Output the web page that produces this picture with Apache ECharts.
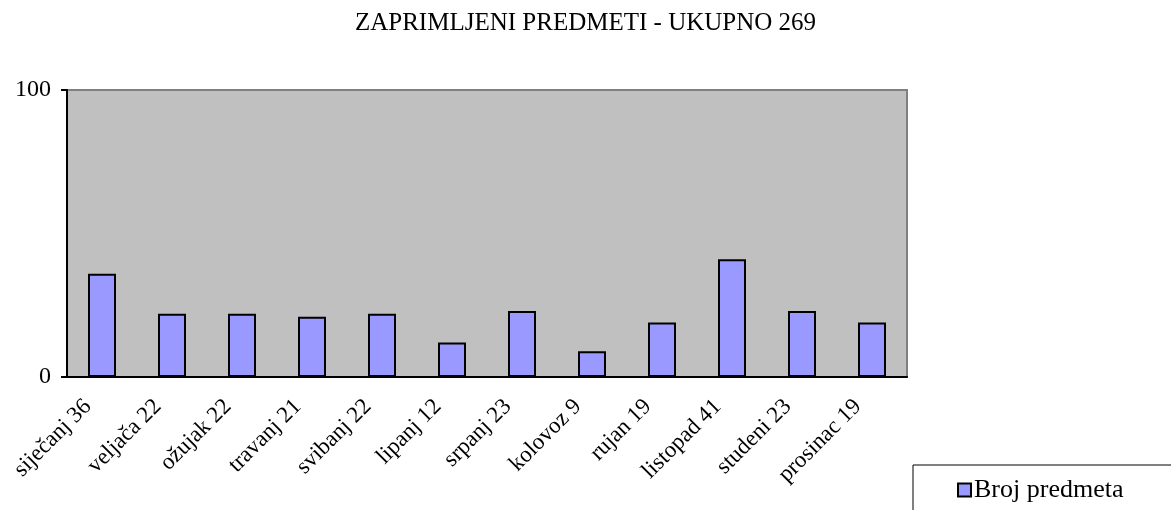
<!DOCTYPE html>
<html>
<head>
<meta charset="UTF-8">
<title>Zaprimljeni predmeti</title>
<script src="https://cdn.jsdelivr.net/npm/echarts@6/dist/echarts.min.js"></script>
<style>
  html, body { margin: 0; padding: 0; background: #fff; }
  #main { width: 1171px; height: 510px; }
</style>
</head>
<body>
<div id="main"></div>
<script>
// podaci po mjesecima
var months = ['siječanj', 'veljača', 'ožujak', 'travanj', 'svibanj', 'lipanj',
  'srpanj', 'kolovoz', 'rujan', 'listopad', 'studeni', 'prosinac'];
var counts = [36, 22, 22, 21, 22, 12, 23, 9, 19, 41, 23, 19];
var yTicks = [0, 100];

var serif = '"Liberation Serif", "Times New Roman", serif';
var labels = months.map(function (m, i) { return m + ' ' + counts[i]; });

var chart = echarts.init(document.getElementById('main'));
chart.setOption({
  animation: false,
  title: {
    text: 'ZAPRIMLJENI PREDMETI - UKUPNO 269',
    left: 'center',
    top: 6,
    textStyle: { fontFamily: serif, fontSize: 25, fontWeight: 'normal', color: '#000' }
  },
  legend: {
    left: 913,
    top: 465,
    padding: [12, 60, 20, 44],
    backgroundColor: '#fff',
    borderColor: '#000',
    borderWidth: 1,
    borderRadius: 0,
    itemWidth: 13,
    itemHeight: 13,
    itemGap: 4,
    icon: 'rect',
    textStyle: { fontFamily: serif, fontSize: 26, color: '#000', padding: [0, 0, 0, -2] },
    data: ['Broj predmeta']
  },
  grid: {
    left: 67, right: 264, top: 90, bottom: 133,
    show: true,
    backgroundColor: '#c0c0c0',
    borderColor: '#808080',
    borderWidth: 2
  },
  xAxis: {
    type: 'category',
    data: labels,
    axisLine: { lineStyle: { color: '#000', width: 2 } },
    axisTick: { length: 6, lineStyle: { color: '#000', width: 2 } },
    axisLabel: {
      rotate: 45, interval: 0, margin: 12, padding: [0, 20, 0, 0],
      fontFamily: serif, fontSize: 23, color: '#000'
    }
  },
  yAxis: {
    type: 'value',
    min: yTicks[0],
    max: yTicks[yTicks.length - 1],
    interval: yTicks[1] - yTicks[0],
    splitLine: { show: false },
    axisLine: { show: true, lineStyle: { color: '#000', width: 2 } },
    axisTick: { show: true, length: 6, lineStyle: { color: '#000', width: 2 } },
    axisLabel: { fontFamily: serif, fontSize: 24, color: '#000', margin: 16 }
  },
  series: [{
    name: 'Broj predmeta',
    type: 'bar',
    data: counts,
    barWidth: '40%',
    itemStyle: { color: '#9999ff', borderColor: '#000', borderWidth: 2 }
  }]
});
</script>
</body>
</html>
